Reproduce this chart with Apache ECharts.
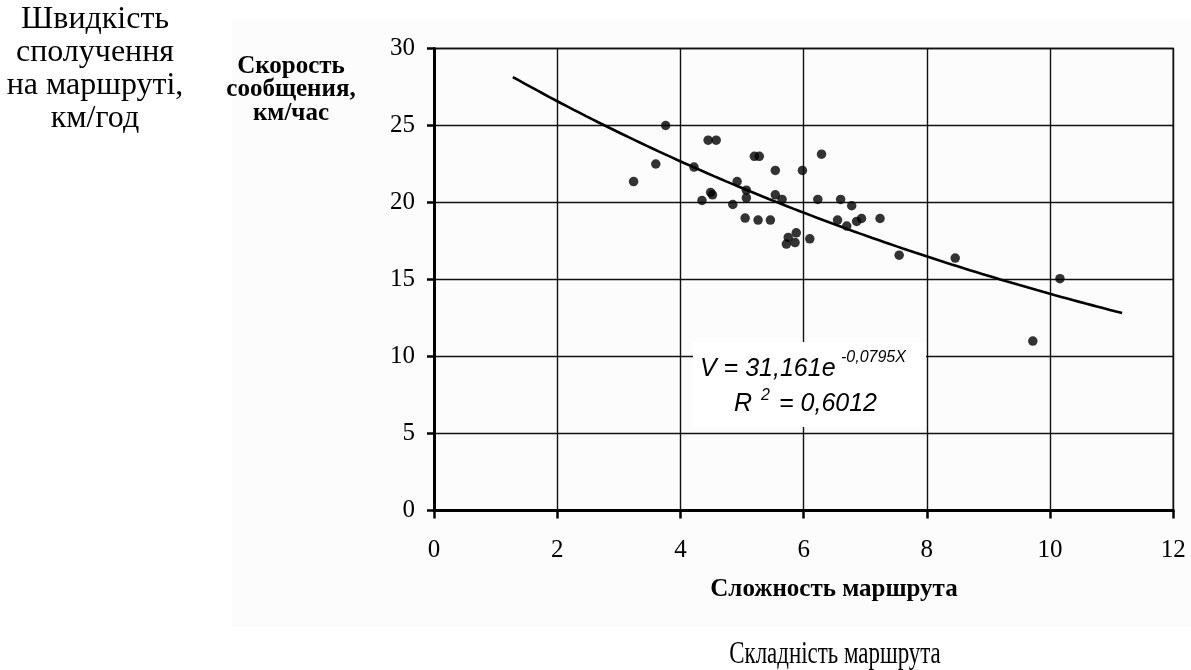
<!DOCTYPE html>
<html>
<head>
<meta charset="utf-8">
<script src="https://cdn.jsdelivr.net/npm/echarts@6/dist/echarts.min.js"></script>
<style>
  html, body { margin: 0; padding: 0; background: #ffffff; }
  #chart { width: 1191px; height: 670px; }
</style>
</head>
<body>
<div id="chart"></div>
<script>
// Route complexity (x) vs. travel speed, km/h (y)
const complexity = [3.76, 4.45, 4.58, 3.60, 3.24, 4.22, 5.20, 5.28, 6.29, 5.54,
                    5.98, 4.92, 5.07, 4.49, 4.52, 4.35, 5.07, 5.54, 5.65, 4.85,
                    6.23, 6.60, 6.78, 5.05, 5.26, 5.46, 6.55, 6.70, 6.86, 6.94,
                    7.24, 5.88, 5.75, 5.72, 5.86, 6.10, 7.55, 8.46, 10.16, 9.72];
const speed = [25.0, 24.05, 24.05, 22.5, 21.36, 22.3, 23.0, 23.0, 23.14, 22.08,
               22.08, 21.36, 20.8, 20.65, 20.5, 20.13, 20.3, 20.5, 20.2, 19.87,
               20.2, 20.2, 19.79, 18.99, 18.86, 18.86, 18.86, 18.47, 18.77, 18.96,
               18.96, 18.03, 17.73, 17.3, 17.4, 17.64, 16.58, 16.39, 15.05, 11.0];

// Exponential trend V = A * e^(k*X), coefficients as printed on the chart
const trendA = 31.161;
const trendK = -0.0795;
const trendFrom = 1.28;
const trendTo = 11.17;

const xTicks = [0, 2, 4, 6, 8, 10, 12];
const yTicks = [0, 5, 10, 15, 20, 25, 30];

const points = complexity.map((x, i) => [x, speed[i]]);
const trend = [];
for (let i = 0; i <= 100; i++) {
  const x = trendFrom + (trendTo - trendFrom) * i / 100;
  trend.push([x, trendA * Math.exp(trendK * x)]);
}

const serif = '"Liberation Serif", "DejaVu Serif", serif';
const sans = '"Liberation Sans", Arial, sans-serif';

const chart = echarts.init(document.getElementById('chart'), null, { renderer: 'canvas' });
chart.setOption({
  backgroundColor: '#ffffff',
  animation: false,
  grid: {
    left: 434, right: 17.7, top: 48.5, bottom: 159.5,
    show: true, borderColor: '#000', borderWidth: 1.5, backgroundColor: 'transparent'
  },
  xAxis: {
    type: 'value',
    min: xTicks[0], max: xTicks[xTicks.length - 1], interval: 2,
    axisLine: { show: true, onZero: false, lineStyle: { color: '#000', width: 3 } },
    axisTick: { show: true, inside: false, length: 8, lineStyle: { color: '#000', width: 2.5 } },
    splitLine: { show: true, lineStyle: { color: '#111', width: 1.4 } },
    axisLabel: { color: '#000', fontFamily: serif, fontSize: 25, margin: 27 }
  },
  yAxis: {
    type: 'value',
    min: yTicks[0], max: yTicks[yTicks.length - 1], interval: 5,
    axisLine: { show: true, onZero: false, lineStyle: { color: '#000', width: 3 } },
    axisTick: { show: true, inside: false, length: 7, lineStyle: { color: '#000', width: 2.5 } },
    splitLine: { show: true, lineStyle: { color: '#111', width: 1.4 } },
    axisLabel: { color: '#000', fontFamily: serif, fontSize: 25, margin: 19 }
  },
  series: [
    {
      type: 'line',
      data: trend,
      showSymbol: false,
      symbol: 'none',
      lineStyle: { color: '#000', width: 2.6 },
      z: 3
    },
    {
      type: 'scatter',
      data: points,
      symbol: 'circle',
      symbolSize: 9.5,
      itemStyle: { color: '#000' },
      z: 4
    }
  ],
  graphic: [
    // chart-area panel
    { type: 'rect', z: -10, shape: { x: 232, y: 20, width: 959, height: 607 },
      style: { fill: '#fcfcfc' } },
    // Ukrainian captions
    { type: 'text', x: 95, y: 3, z: 5,
      style: { text: 'Швидкість\nсполучення\nна маршруті,\nкм/год',
               fill: '#000', font: '32px ' + serif, textAlign: 'center', lineHeight: 33 } },
    { type: 'text', x: 835, y: 655, scaleX: 0.74, z: 5,
      style: { text: 'Складність маршрута', fill: '#000', font: '31px ' + serif,
               textAlign: 'center', textVerticalAlign: 'middle' } },
    // axis titles
    { type: 'text', x: 291, y: 54.5, z: 5,
      style: { text: 'Скорость\nсообщения,\nкм/час', fill: '#000',
               font: 'bold 25px ' + serif, textAlign: 'center', lineHeight: 23.5 } },
    { type: 'text', x: 834, y: 590, z: 5,
      style: { text: 'Сложность маршрута', fill: '#000', font: 'bold 25px ' + serif,
               textAlign: 'center', textVerticalAlign: 'middle' } },
    // trend equation label
    { type: 'rect', z: 50, shape: { x: 693, y: 342, width: 233, height: 85 },
      style: { fill: '#ffffff' } },
    { type: 'text', x: 700, y: 369, z: 51,
      style: { text: 'V = 31,161e', fill: '#000', font: 'italic 25px ' + sans,
               textAlign: 'left', textVerticalAlign: 'middle' } },
    { type: 'text', x: 841, y: 358, z: 51,
      style: { text: '-0,0795X', fill: '#000', font: 'italic 16px ' + sans,
               textAlign: 'left', textVerticalAlign: 'middle' } },
    { type: 'text', x: 734, y: 404, z: 51,
      style: { text: 'R', fill: '#000', font: 'italic 25px ' + sans,
               textAlign: 'left', textVerticalAlign: 'middle' } },
    { type: 'text', x: 761, y: 396, z: 51,
      style: { text: '2', fill: '#000', font: 'italic 16px ' + sans,
               textAlign: 'left', textVerticalAlign: 'middle' } },
    { type: 'text', x: 779, y: 404, z: 51,
      style: { text: '= 0,6012', fill: '#000', font: 'italic 25px ' + sans,
               textAlign: 'left', textVerticalAlign: 'middle' } }
  ]
});
</script>
</body>
</html>
